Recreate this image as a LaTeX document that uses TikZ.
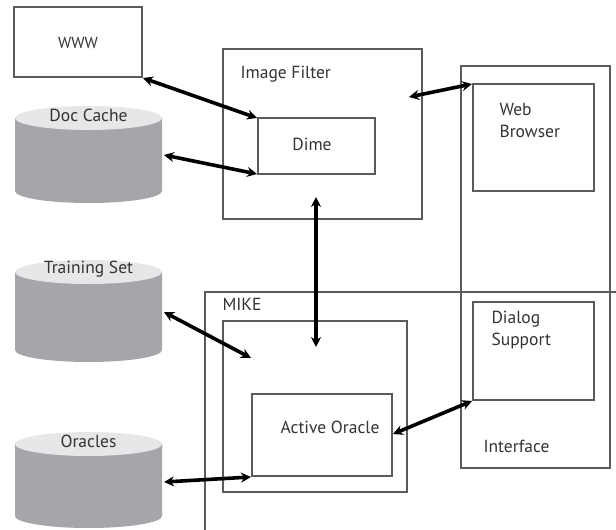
\documentclass[tikz,border=0pt]{standalone}
\usepackage{fontspec}
\setmainfont{PT Sans}
\usetikzlibrary{arrows.meta}
\definecolor{boxgray}{HTML}{5A5B5D}
\definecolor{cyltop}{HTML}{E6E7E8}
\definecolor{cylside}{HTML}{A4A6A9}
\tikzset{
  every node/.style={font=\fontsize{17.5}{22}\selectfont, text=black!80},
  box/.style={draw=boxgray, line width=1.4pt},
  link/.style={line width=3.6pt, {Stealth[length=10pt,width=10pt]}-{Stealth[length=10pt,width=10pt]}}
}
\newcommand{\mycyl}[4]{% name, top centre y, bottom centre y, label
  \fill[cylside] (15,#2) -- (15,#3) arc[start angle=180,end angle=360,x radius=73.5,y radius=-12] -- (162,#2) -- cycle;
  \fill[cyltop] (88.5,#2) ellipse[x radius=73.5,y radius=12];
  \node[inner sep=0pt] (#1) at (88.5,#2-3) {#4};
}
\begin{document}
\begin{tikzpicture}[x=1pt,y=-1pt]
\useasboundingbox (0,0) rectangle (616,530);
\begin{scope}
\clip (0,0) rectangle (616,530);
% cylinders
\mycyl{doc}{118}{191}{Doc Cache}
\mycyl{train}{272}{350}{Training Set}
\mycyl{orac}{444}{516}{Oracles}
% boxes
\draw[box] (14,7) rectangle (142,77);
\node (www) at (78,43) {\fontsize{16}{18}\selectfont WWW};
\coordinate (wwwse) at (143,78);
\draw[box] (223,49) rectangle (422,219);
\node[anchor=west] (ifl) at (237,74) {Image Filter};
\draw[box] (258,118) rectangle (375,174);
\node (dime) at (312,144) {Dime};
\coordinate (dimenw) at (257,118);
\coordinate (dimesw) at (257,174);
% interface
\draw[box] (461,66) rectangle (610,468);
\draw[box] (473,84) rectangle (594,191);
\node[anchor=north west, align=left] (web) at (496,100) {Web\\Browser};
\coordinate (webnw) at (472,84);
\draw[box] (473,302) rectangle (594,400);
\node[anchor=north west, align=left] (dlg) at (488,308) {Dialog\\Support};
\coordinate (dlgsw) at (472,401);
\node[anchor=west] (intf) at (480,446) {Interface};
% MIKE
\draw[box] (617,292) -- (205,292) -- (205,531);
\node[anchor=west] (mike) at (219,304) {MIKE};
\draw[box] (223,321) rectangle (407,492);
\draw[box] (252,394) rectangle (392,476);
\node (ao) at (330,427) {Active Oracle};
\coordinate (aosw) at (251,477);
\coordinate (aoe) at (393,434);
% free ends
\coordinate (docE) at (164,155);
\coordinate (trainE) at (164,312);
\coordinate (oracE) at (164,482);
\coordinate (ifin) at (409,97);
\coordinate (ifbot) at (316,197);
\coordinate (mikein) at (316,347);
\coordinate (mikeinl) at (251,358);
% arrows
\draw[link] (wwwse) -- (dimenw);
\draw[link] (docE) -- (dimesw);
\draw[link] (ifin) -- (webnw);
\draw[link] (ifbot) -- (mikein);
\draw[link] (trainE) -- (mikeinl);
\draw[link] (oracE) -- (aosw);
\draw[link] (aoe) -- (dlgsw);
\end{scope}
\end{tikzpicture}
\end{document}
